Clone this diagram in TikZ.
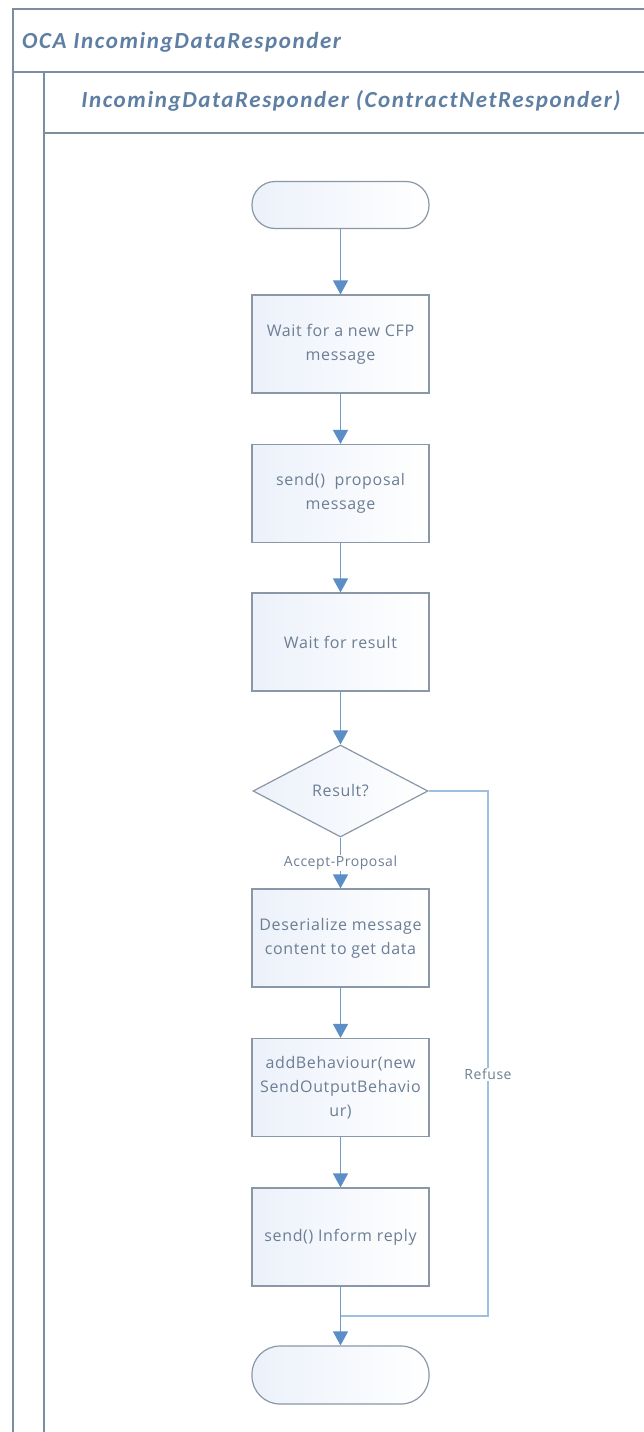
\documentclass[tikz,border=0pt]{standalone}
\usepackage{fontspec}
\setmainfont{Open Sans}[LetterSpace=4]
\newfontfamily\titlefont{Carlito}[LetterSpace=7]
\usetikzlibrary{arrows.meta,shapes.geometric}
\definecolor{frameclr}{HTML}{7B8DA1}
\definecolor{boxline}{HTML}{8A97A6}
\definecolor{flowclr}{HTML}{6E9BC9}
\definecolor{tipclr}{HTML}{5B8DC6}
\definecolor{refuseclr}{HTML}{9DBFE0}
\definecolor{txtclr}{HTML}{6C7E94}
\definecolor{titleclr}{HTML}{5E7FA3}
\definecolor{fillclr}{HTML}{ECF1FA}
\tikzset{
  stepbox/.style={draw=boxline, line width=1.2pt, left color=fillclr, right color=white,
    minimum width=177pt, minimum height=98pt, inner sep=0pt, align=center,
    text=txtclr, font=\fontsize{16}{24}\selectfont},
  terminal/.style={draw=boxline, line width=1.2pt, left color=fillclr, right color=white,
    rounded corners=23pt, minimum width=177pt, minimum height=47pt, inner sep=0pt},
  decision/.style={diamond, draw=boxline, line width=1.2pt, left color=fillclr, right color=white,
    minimum width=175pt, minimum height=92pt, inner sep=0pt, aspect=1.9,
    text=txtclr, font=\fontsize{16}{24}\selectfont},
  flow/.style={draw=flowclr, line width=1.3pt, -{Triangle[width=15pt,length=14pt,color=tipclr]}},
  plainflow/.style={draw=flowclr, line width=1.3pt},
  refuseline/.style={draw=refuseclr, line width=1.5pt},
  lbl/.style={text=txtclr, font=\fontsize{14}{16}\selectfont, inner sep=1pt},
  framestyle/.style={draw=frameclr, line width=1.6pt},
  titletxt/.style={text=titleclr, font=\titlefont\bfseries\itshape\fontsize{23}{26}\selectfont, inner sep=0pt}
}
\begin{document}
\begin{tikzpicture}[x=1pt,y=-1pt]
  \useasboundingbox (0,0) rectangle (643,1432);
  \fill[white] (0,0) rectangle (643,1432);

  % pool and lane frame
  \draw[framestyle] (660,9) -- (13,9) -- (13,1445);
  \draw[framestyle] (13,72) -- (660,72);
  \draw[framestyle] (44,72) -- (44,1445);
  \draw[framestyle] (44,133) -- (660,133);
  \node[titletxt, anchor=west] (pooltitle) at (22,42) {OCA IncomingDataResponder};
  \node[titletxt] (lanetitle) at (351,101) {IncomingDataResponder (ContractNetResponder)};

  % flow nodes
  \node[terminal] (start) at (340.5,205) {};
  \node[stepbox] (wait) at (340.5,344) {Wait for a new CFP\\message};
  \node[stepbox] (propose) at (340.5,493.5) {send()\ \ proposal\\message};
  \node[stepbox] (result) at (340.5,642) {Wait for result};
  \node[decision] (check) at (340.5,791) {Result?};
  \node[stepbox] (deser) at (340.5,938) {Deserialize message\\content to get data};
  \node[stepbox] (addb) at (340.5,1087.5) {addBehaviour(new\\SendOutputBehavio\\ur)};
  \node[stepbox] (inform) at (340.5,1237) {send() Inform reply};
  \node[terminal, minimum height=58pt, rounded corners=28pt] (finish) at (340.5,1375) {};
  \coordinate (turn) at (488,791);
  \coordinate (join) at (340.5,1316);

  % connectors
  \draw[flow] (start) -- (wait);
  \draw[flow] (wait) -- (propose);
  \draw[flow] (propose) -- (result);
  \draw[flow] (result) -- (check);
  \draw[flow] (check) -- node[lbl, fill=white, pos=0.5] (accept) {Accept-Proposal} (deser);
  \draw[flow] (deser) -- (addb);
  \draw[flow] (addb) -- (inform);
  \draw[refuseline] (check.east) -- (turn) -- node[lbl, fill=white, pos=0.54] (refuse) {Refuse} (turn |- join) -- (join);
  \draw[plainflow] (inform) -- (join);
  \draw[flow] (join) -- (finish);
\end{tikzpicture}
\end{document}
